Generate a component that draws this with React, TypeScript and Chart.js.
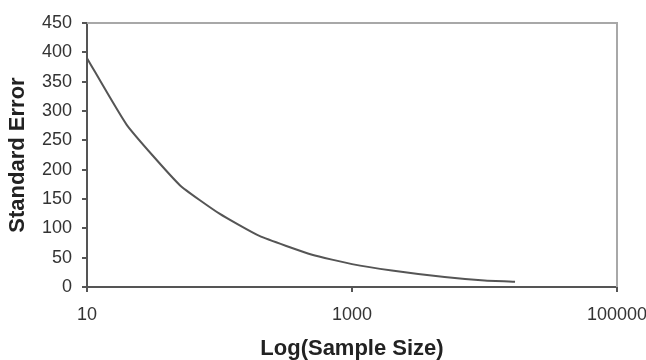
import React, { useEffect, useRef } from "react";
import { Chart, registerables } from "chart.js";

Chart.register(...registerables);

const sampleSizes = [10, 20, 50, 100, 200, 500, 1000, 2000, 5000, 10000, 17000];
const standardErrors = [390, 276, 174, 125, 87, 55, 39, 28, 17, 11, 9];
const xTickValues = [10, 1000, 100000];
const yMin = 0;
const yMax = 450;
const yStep = 50;
const xTitle = "Log(Sample Size)";
const yTitle = "Standard Error";

const borderPlugin = {
  id: "plotBorder",
  afterDraw(chart: any) {
    const { ctx, chartArea } = chart;
    ctx.save();
    ctx.strokeStyle = "#a8a8a8";
    ctx.lineWidth = 2;
    ctx.beginPath();
    ctx.moveTo(chartArea.left, chartArea.top);
    ctx.lineTo(chartArea.right, chartArea.top);
    ctx.lineTo(chartArea.right, chartArea.bottom);
    ctx.stroke();
    ctx.restore();
  },
};

export default function App() {
  const ref = useRef<HTMLCanvasElement>(null);
  useEffect(() => {
    document.body.style.margin = "0";
    const chart = new Chart(ref.current!, {
      type: "line",
      data: {
        datasets: [
          {
            data: sampleSizes.map((x, i) => ({ x, y: standardErrors[i] })),
            borderColor: "#555555",
            borderWidth: 2,
            pointRadius: 0,
            tension: 0.15,
            fill: false,
          },
        ],
      },
      options: {
        animation: false,
        responsive: false,
        events: [],
        layout: { padding: { top: 23, right: 29, left: 0, bottom: 0 } },
        plugins: { legend: { display: false }, tooltip: { enabled: false } },
        scales: {
          x: {
            type: "logarithmic",
            min: 10,
            max: 100000,
            afterBuildTicks: (scale: any) => {
              scale.ticks = xTickValues.map((v) => ({ value: v }));
            },
            afterFit: (scale: any) => {
              scale.height = 73;
              scale.paddingLeft = 0;
              scale.paddingRight = 0;
            },
            ticks: {
              autoSkip: false,
              maxRotation: 0,
              padding: 12,
              color: "#333",
              font: { family: "'Liberation Sans', Arial, sans-serif", size: 18 },
              callback: (v: any) => String(v),
            },
            grid: { drawOnChartArea: false, drawTicks: true, tickLength: 5, color: "#555", lineWidth: 2 },
            border: { display: true, color: "#555", width: 2 },
            title: {
              display: true,
              text: xTitle,
              color: "#222",
              font: { family: "'Liberation Sans', Arial, sans-serif", size: 22, weight: "bold", lineHeight: 1 },
              padding: { top: 0, bottom: 0 },
            },
          },
          y: {
            min: yMin,
            max: yMax,
            afterFit: (scale: any) => {
              scale.width = 87;
              scale.paddingTop = 0;
              scale.paddingBottom = 0;
            },
            ticks: {
              stepSize: yStep,
              padding: 10,
              color: "#333",
              font: { family: "'Liberation Sans', Arial, sans-serif", size: 18 },
            },
            grid: { drawOnChartArea: false, drawTicks: true, tickLength: 5, color: "#555", lineWidth: 2 },
            border: { display: true, color: "#555", width: 2 },
            title: {
              display: true,
              text: yTitle,
              color: "#222",
              font: { family: "'Liberation Sans', Arial, sans-serif", size: 22, weight: "bold", lineHeight: 1.2 },
              padding: { top: 5, bottom: 0 },
            },
          },
        },
      },
      plugins: [borderPlugin],
    } as any);
    return () => chart.destroy();
  }, []);
  return (
    <div style={{ position: "fixed", left: 0, top: 0, width: 646, height: 360, background: "#fff" }}>
      <canvas ref={ref} width={646} height={360} style={{ width: 646, height: 360 }} />
    </div>
  );
}
